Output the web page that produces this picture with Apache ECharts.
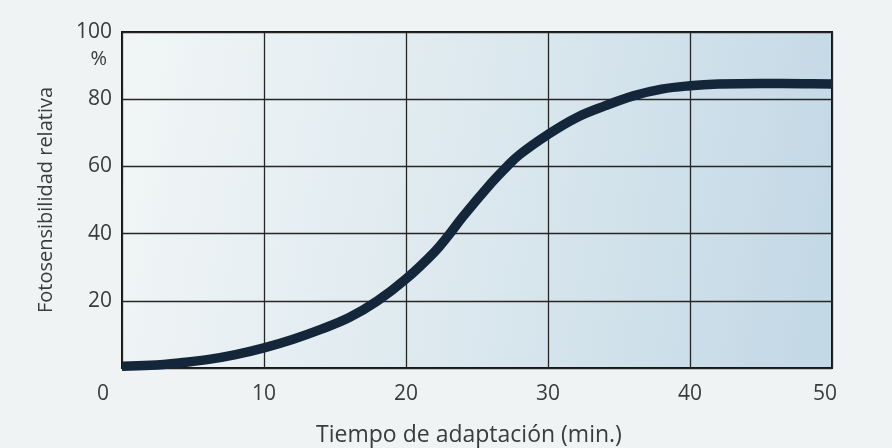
<!DOCTYPE html>
<html>
<head>
<meta charset="utf-8">
<script src="https://cdn.jsdelivr.net/npm/echarts@6/dist/echarts.min.js"></script>
<style>
html,body{margin:0;padding:0;background:#eff3f3;}
#c{width:892px;height:448px;}
</style>
</head>
<body>
<div id="c"></div>
<script>
// Data
const timeMin = [0, 2, 4, 6, 8, 10, 12, 14, 16, 18, 20, 22, 23, 24, 26, 27, 28, 30, 32, 34, 36, 38, 40, 42, 45, 48, 50];
const sensitivity = [0.5, 0.8, 1.5, 2.5, 4, 6, 8.5, 11.5, 15, 20, 26.5, 34.5, 39.5, 45, 55, 59.5, 63.5, 69.5, 74.5, 78, 81, 83, 84, 84.5, 84.7, 84.6, 84.5];
const xTicks = [0, 10, 20, 30, 40, 50];
const yTicks = [20, 40, 60, 80, 100];
const xName = 'Tiempo de adaptación (min.)';
const yName = 'Fotosensibilidad relativa';
const unitLabel = '%';

const chart = echarts.init(document.getElementById('c'), null, {renderer: 'canvas'});
const txt = '#383c3b';
const font = 'Open Sans';
chart.setOption({
  backgroundColor: '#eff3f3',
  animation: false,
  grid: {
    left: 122, right: 60, top: 32, bottom: 80,
    outerBoundsMode: 'none',
    containLabel: false,
    show: true,
    borderColor: '#151515',
    borderWidth: 2,
    backgroundColor: {
      type: 'linear', x: 0, y: 0, x2: 1, y2: 0.4,
      colorStops: [
        {offset: 0, color: '#f2f6f6'},
        {offset: 0.5, color: '#dde9ef'},
        {offset: 1, color: '#c4d9e6'}
      ]
    }
  },
  xAxis: {
    type: 'value', min: 0, max: 50, interval: 10,
    name: xName, nameLocation: 'middle', nameGap: 56,
    nameTextStyle: {color: txt, fontSize: 23, fontFamily: font, padding: [0, 16, 0, 0]},
    axisLine: {show: false}, axisTick: {show: false},
    splitLine: {show: true, lineStyle: {color: '#262626', width: 1.3}},
    axisLabel: {
      color: txt, fontSize: 21, fontFamily: font, margin: 16,
      formatter: function (v) {
        if (xTicks.indexOf(v) < 0) return '';
        if (v === 0) return '{z|0}';
        if (v === 50) return '{e|50}';
        return String(v);
      },
      rich: {
        z: {color: txt, fontSize: 21, fontFamily: font, padding: [0, 38, 0, 0]},
        e: {color: txt, fontSize: 21, fontFamily: font, padding: [0, 14, 0, 0]}
      }
    }
  },
  yAxis: [{
    type: 'value', min: 0, max: 100, interval: 20,
    name: yName, nameLocation: 'middle', nameGap: 66,
    nameTextStyle: {color: txt, fontSize: 20, fontFamily: font},
    axisLine: {show: false}, axisTick: {show: false},
    splitLine: {show: true, lineStyle: {color: '#262626', width: 1.3}},
    axisLabel: {
      color: txt, fontSize: 21, fontFamily: font, margin: 10,
      formatter: function (v) { return yTicks.indexOf(v) >= 0 ? String(v) : ''; }
    }
  }, {
    type: 'value', min: 0, max: 100, interval: 10, position: 'left',
    axisLine: {show: false}, axisTick: {show: false}, splitLine: {show: false},
    axisLabel: {
      color: txt, fontSize: 20, fontFamily: font, margin: 15,
      formatter: function (v) { return v === 90 ? '{p|' + unitLabel + '}' : ''; },
      rich: {p: {color: txt, fontSize: 20, fontFamily: font, padding: [0, 0, 12, 0]}}
    }
  }],
  series: [{
    type: 'line',
    data: timeMin.map((t, i) => [t, sensitivity[i]]),
    smooth: 0.4,
    showSymbol: false,
    lineStyle: {color: '#14263a', width: 9.5, cap: 'butt'},
    z: 5
  }]
});
</script>
</body>
</html>
